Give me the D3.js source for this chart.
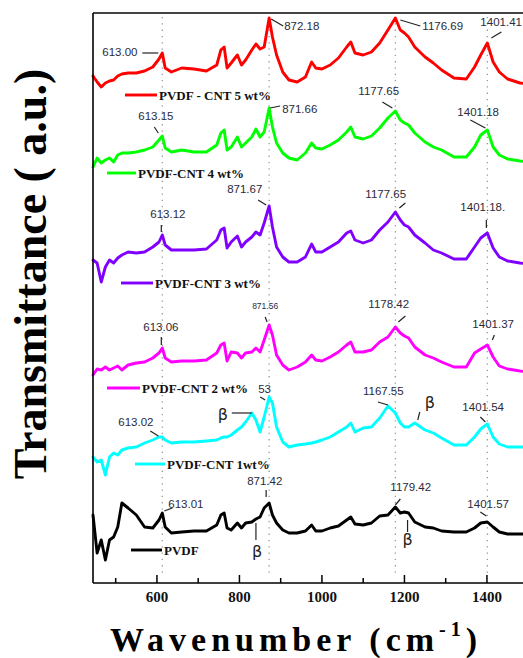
<!DOCTYPE html>
<html>
<head>
<meta charset="utf-8">
<script src="https://cdn.jsdelivr.net/npm/d3@7"></script>
<style>
  body { margin: 0; background: #fff; }
  svg { display: block; }
  .trace { fill: none; stroke-width: 2.9; stroke-linejoin: round; stroke-linecap: round; }
  .peak { font-family: "Liberation Sans", Arial, sans-serif; font-size: 11.5px; fill: #2a2a3a; dominant-baseline: middle; }
  .leader { stroke: #222; stroke-width: 1.2; }
  .beta { font-family: "DejaVu Sans", sans-serif; font-size: 16px; fill: #222; dominant-baseline: middle; }
  .legend { font-family: "Liberation Serif", "Times New Roman", serif; font-weight: bold; font-size: 13px; fill: #111; }
  .tick-label { font-family: "Liberation Serif", "Times New Roman", serif; font-weight: bold; font-size: 15px; fill: #111; text-anchor: middle; }
  .axis-title { font-family: "Liberation Serif", "Times New Roman", serif; font-weight: bold; fill: #000; }
</style>
</head>
<body>
<div id="chart"></div>
<script>
// FTIR spectra of PVDF and PVDF-CNT films, stacked with offsets

var wavenumbers = [445,455,465,475,485,495,505,515,530,550,570,590,605,613,620,635,660,690,720,745,
  755,763,770,780,795,805,815,830,840,850,860,872,880,890,905,920,940,960,975,985,
  1000,1020,1040,1060,1070,1080,1100,1120,1140,1160,1178,1190,1200,1210,1225,1250,1270,1290,1320,1350,
  1370,1385,1401,1415,1430,1450,1480,1500];

var cnt5 = [50.7,50.1,49.6,50.0,50.2,50.3,50.7,50.9,51.0,51.0, 51.2,51.6,52.4,53.0,51.5,51.1,51.5,51.4,51.2,51.8,
  53.3,53.6,51.5,52.0,52.8,51.8,52.3,53.3,53.9,53.4, 53.6,56.5,54.6,52.8,51.1,50.3,50.1,50.6,52.1,51.5,
  51.4,51.8,52.5,53.6,54.1,53.0,52.8,53.1,54.0,55.3, 56.5,55.3,55.0,54.6,53.6,52.6,52.0,51.3,50.5,50.4,
  51.6,52.8,54.0,52.1,51.1,50.4,50.0,49.9];

var cnt4 = [41.6,42.5,42.0,42.3,42.5,42.1,42.8,43.0,43.0,43.1, 43.3,43.6,44.3,44.7,43.5,43.1,43.3,43.1,43.1,43.8,
  45.0,45.3,43.3,43.6,44.6,43.6,44.0,44.6,45.4,44.6, 45.1,47.5,45.6,44.0,43.0,42.5,42.3,43.0,44.0,43.5,
  43.4,43.8,44.3,45.1,45.6,44.6,44.4,44.7,45.5,46.5, 47.2,46.3,46.0,45.8,45.0,44.1,43.6,43.3,42.6,42.6,
  43.6,44.8,45.3,43.6,42.8,42.4,42.2,42.1];

var cnt3 = [32.3,32.0,30.1,31.6,32.3,32.0,32.5,32.8,33.1,33.0, 33.1,33.6,34.1,34.8,33.8,33.3,33.3,33.3,33.4,34.3,
  35.3,35.5,33.5,34.1,34.7,33.6,34.1,34.6,35.1,34.8, 36.0,37.7,35.6,33.6,32.6,32.1,32.1,32.6,33.9,33.1,
  33.1,33.6,34.1,35.0,35.2,34.3,34.0,34.3,35.3,36.1, 37.1,36.3,35.8,35.6,34.8,34.0,33.3,33.0,32.4,32.4,
  33.6,34.5,35.0,33.5,32.6,32.2,32.0,31.9];

var cnt2 = [20.8,21.4,21.3,21.6,21.3,21.5,21.7,21.3,21.8,22.0, 22.1,22.5,23.0,23.5,22.5,22.1,22.2,22.2,22.3,23.0,
  23.8,24.0,22.2,23.1,23.0,22.5,23.0,23.1,23.5,23.1, 24.3,25.8,24.8,22.8,21.8,21.3,21.6,22.1,22.8,22.3,
  22.2,22.6,23.1,23.8,24.1,23.1,23.1,23.3,24.1,24.6, 25.6,25.0,24.7,24.5,23.6,22.8,22.5,22.1,21.6,21.6,
  23.0,23.4,23.8,22.6,21.7,21.4,21.2,21.1];

var cnt1 = [12.6,12.1,12.3,10.8,12.6,13.0,12.8,13.3,13.5,13.6, 14.0,14.3,14.6,14.6,14.3,14.0,14.1,14.1,14.2,14.3,
  14.5,14.6,14.6,14.8,15.3,15.6,16.1,17.0,16.3,15.1, 16.6,18.6,18.0,15.6,14.1,13.6,13.8,13.9,14.0,14.1,
  14.3,14.6,15.1,15.6,16.0,15.1,15.5,15.6,16.5,17.7, 17.0,16.0,15.6,15.6,16.0,15.3,15.0,14.5,13.8,13.8,
  14.6,15.4,15.9,14.6,13.9,13.6,13.6,13.6];

var pvdf = [6.8,3.0,4.3,2.3,4.3,4.6,5.6,8.0,7.5,6.8, 5.6,5.5,6.3,7.0,5.6,5.0,5.1,5.2,5.2,5.8,
  6.8,7.0,5.5,5.3,6.0,5.5,6.0,6.1,6.4,6.6, 7.5,8.0,6.8,6.0,5.3,5.0,5.0,5.2,5.8,5.2,
  5.2,5.5,5.7,6.3,6.6,5.9,5.8,6.0,6.7,6.8, 7.6,7.0,7.1,7.0,6.1,5.6,5.5,5.2,5.1,5.1,
  5.5,6.0,6.1,5.6,5.1,4.9,4.9,4.9];

var seriesKeys = ["cnt5", "cnt4", "cnt3", "cnt2", "cnt1", "pvdf"];
var seriesValues = {cnt5: cnt5, cnt4: cnt4, cnt3: cnt3, cnt2: cnt2, cnt1: cnt1, pvdf: pvdf};
var seriesColors = {cnt5: "#ff0000", cnt4: "#00ff00", cnt3: "#8000ff", cnt2: "#ff00ff", cnt1: "#00ffff", pvdf: "#000000"};
var legendNames = {cnt5: "PVDF - CNT 5 wt%", cnt4: "PVDF-CNT  4 wt%", cnt3: "PVDF-CNT 3 wt%",
  cnt2: "PVDF-CNT 2 wt%", cnt1: "PVDF-CNT 1wt%", pvdf: "PVDF"};

var xTicks = [600, 800, 1000, 1200, 1400];
var xMinorTicks = [500, 700, 900, 1100, 1300];
var guideLines = [613, 872, 1178, 1401];

// peak labels: series, peak wavenumber, text, label offset, leader offsets (px, from the peak)
var peakLabels = [
  {s:"cnt5", w:613,  text:"613.00",  dx:-60, dy:0,   lead:[-20,0,-4,0]},
  {s:"cnt5", w:872,  text:"872.18",  dx:15,  dy:9,   lead:[2,1,14,8]},
  {s:"cnt5", w:1178, text:"1176.69", dx:27,  dy:9,   lead:[5,2,25,8]},
  {s:"cnt5", w:1401, text:"1401.41", dx:-7,  dy:-20, lead:[4,-5,14,-11]},
  {s:"cnt4", w:613,  text:"613.15",  dx:-24, dy:-19, lead:[-8,-9,-4,-3]},
  {s:"cnt4", w:872,  text:"871.66",  dx:13,  dy:2,   lead:[1,0,11,-2]},
  {s:"cnt4", w:1178, text:"1177.65", dx:-37, dy:-19, lead:[-13,-9,-3,-3]},
  {s:"cnt4", w:1401, text:"1401.18", dx:-30, dy:-17, lead:[-17,-10,-2,-2]},
  {s:"cnt3", w:613,  text:"613.12",  dx:-12, dy:-20, lead:[-1,-10,-1,-3]},
  {s:"cnt3", w:872,  text:"871.67",  dx:-42, dy:-16, lead:[-11,-6,-3,-1]},
  {s:"cnt3", w:1178, text:"1177.65", dx:-30, dy:-17, lead:[4,-4,10,-9]},
  {s:"cnt3", w:1401, text:"1401.18.", dx:-27, dy:-25, lead:[-1,-13,-1,-5]},
  {s:"cnt2", w:613,  text:"613.06",  dx:-19, dy:-20, lead:[-1,-11,-1,-3]},
  {s:"cnt2", w:872,  text:"871.56",  dx:-17, dy:-18, lead:[-4,-8,-2,-3], small:true},
  {s:"cnt2", w:1178, text:"1178.42", dx:-27, dy:-22, lead:[3,-5,10,-11]},
  {s:"cnt2", w:1401, text:"1401.37", dx:-15, dy:-20, lead:[5,-5,7,-10]},
  {s:"cnt1", w:613,  text:"613.02",  dx:-44, dy:-14, lead:[-12,-6,-4,-1]},
  {s:"cnt1", w:872,  text:"53",      dx:-11, dy:-7,  lead:[-9,0,-4,3]},
  {s:"cnt1", w:1160, text:"1167.55", dx:-25, dy:-14, lead:[-10,-4,0,-1]},
  {s:"cnt1", w:1401, text:"1401.54", dx:-25, dy:-16, lead:[-7,-7,-2,-2]},
  {s:"pvdf", w:613,  text:"613.01",  dx:6,   dy:-8,  lead:[2,-2,10,-5]},
  {s:"pvdf", w:872,  text:"871.42",  dx:-22, dy:-21, lead:[-3,-13,-3,-6]},
  {s:"pvdf", w:1178, text:"1179.42", dx:-5,  dy:-19, lead:[0,-2,5,-8]},
  {s:"pvdf", w:1401, text:"1401.57", dx:-20, dy:-17, lead:[-7,-10,-1,-6]}
];

// beta-phase marks
var betaLabels = [
  {s:"cnt1", w:830,  dx:-34, dy:2,  lead:[-20,0,0,0]},
  {s:"cnt1", w:1225, dx:10,  dy:-20, lead:[5,-11,3,-3]},
  {s:"pvdf", w:840,  dx:-4,  dy:33, lead:[0,4,0,21]},
  {s:"pvdf", w:1210, dx:-6,  dy:27, lead:[-1,7,-1,19]}
];

// legend placement (px): line start, line end, line y
var legendLayout = {
  cnt5: [125, 157, 95],
  cnt4: [107, 136, 173],
  cnt3: [121, 153, 283],
  cnt2: [107, 140, 388],
  cnt1: [135, 165, 464],
  pvdf: [131, 162, 550]
};

var width = 523, height = 658;
var margin = {left: 93, top: 13, bottom: 583};

var svg = d3.select("#chart").append("svg")
  .attr("width", width).attr("height", height);

var x = d3.scaleLinear().domain([445, 1500]).range([margin.left, margin.left + 1055 * 0.4125]);
var y = d3.scaleLinear().domain([0, 57]).range([margin.bottom, margin.top]);

function valueAt(key, w) {
  var i = wavenumbers.indexOf(w);
  return seriesValues[key][i];
}

// dotted guide lines
svg.append("g").selectAll("line")
  .data(guideLines)
  .enter().append("line")
  .attr("x1", function(d){return x(d);}).attr("x2", function(d){return x(d);})
  .attr("y1", margin.top + 4).attr("y2", margin.bottom - 6)
  .attr("stroke", "#9a9a9a").attr("stroke-width", 1.3)
  .attr("stroke-dasharray", "1.3,5");

// traces
var line = d3.line()
  .x(function(d){return x(d[0]);})
  .y(function(d){return y(d[1]);});

svg.append("g").selectAll("path")
  .data(seriesKeys)
  .enter().append("path")
  .attr("class", "trace")
  .attr("stroke", function(k){return seriesColors[k];})
  .attr("d", function(k){
    return line(wavenumbers.map(function(w, i){return [w, seriesValues[k][i]];}));
  });

// axes frame
svg.append("line").attr("x1", margin.left).attr("x2", width).attr("y1", margin.top).attr("y2", margin.top)
  .attr("stroke", "#444").attr("stroke-width", 2);
svg.append("line").attr("x1", margin.left).attr("x2", margin.left).attr("y1", margin.top).attr("y2", margin.bottom)
  .attr("stroke", "#000").attr("stroke-width", 1.6);
svg.append("line").attr("x1", margin.left).attr("x2", width).attr("y1", margin.bottom).attr("y2", margin.bottom)
  .attr("stroke", "#000").attr("stroke-width", 1.6);

// ticks (pointing inward)
svg.append("g").selectAll("line")
  .data(xTicks)
  .enter().append("line")
  .attr("x1", function(d){return x(d);}).attr("x2", function(d){return x(d);})
  .attr("y1", margin.bottom).attr("y2", margin.bottom - 8)
  .attr("stroke", "#000").attr("stroke-width", 1.5);
svg.append("g").selectAll("line")
  .data(xMinorTicks)
  .enter().append("line")
  .attr("x1", function(d){return x(d);}).attr("x2", function(d){return x(d);})
  .attr("y1", margin.bottom).attr("y2", margin.bottom - 5)
  .attr("stroke", "#000").attr("stroke-width", 1.5);
svg.append("g").selectAll("text")
  .data(xTicks)
  .enter().append("text")
  .attr("class", "tick-label")
  .attr("x", function(d){return x(d);})
  .attr("y", margin.bottom + 19)
  .text(function(d){return d;});

// axis titles
svg.append("text")
  .attr("class", "axis-title")
  .attr("transform", "translate(46,274) rotate(-90)")
  .attr("text-anchor", "middle")
  .style("font-size", "46px")
  .text("Transmittance ( a.u.)");

var xTitle = svg.append("text")
  .attr("class", "axis-title")
  .attr("x", 110).attr("y", 651)
  .style("font-size", "34px")
  .style("letter-spacing", "5px");
xTitle.append("tspan").text("Wavenumber (cm");
xTitle.append("tspan").text("-1").style("font-size", "20px").attr("dy", -15);
xTitle.append("tspan").text(")").attr("dy", 15);

// legends
var legend = svg.append("g").selectAll("g")
  .data(seriesKeys)
  .enter().append("g");
legend.append("line")
  .attr("x1", function(k){return legendLayout[k][0];})
  .attr("x2", function(k){return legendLayout[k][1];})
  .attr("y1", function(k){return legendLayout[k][2];})
  .attr("y2", function(k){return legendLayout[k][2];})
  .attr("stroke", function(k){return seriesColors[k];})
  .attr("stroke-width", 2.9);
legend.append("text")
  .attr("class", "legend")
  .attr("x", function(k){return legendLayout[k][1] + 2;})
  .attr("y", function(k){return legendLayout[k][2] + 4.5;})
  .text(function(k){return legendNames[k];});

// peak labels + leaders
var peaks = svg.append("g").selectAll("g")
  .data(peakLabels)
  .enter().append("g")
  .attr("transform", function(d){return "translate(" + x(d.w) + "," + y(valueAt(d.s, d.w)) + ")";});
peaks.append("line")
  .attr("class", "leader")
  .attr("x1", function(d){return d.lead[0];}).attr("y1", function(d){return d.lead[1];})
  .attr("x2", function(d){return d.lead[2];}).attr("y2", function(d){return d.lead[3];});
peaks.append("text")
  .attr("class", "peak")
  .attr("x", function(d){return d.dx;})
  .attr("y", function(d){return d.dy;})
  .style("font-size", function(d){return d.small ? "8.5px" : null;})
  .text(function(d){return d.text;});

var betas = svg.append("g").selectAll("g")
  .data(betaLabels)
  .enter().append("g")
  .attr("transform", function(d){return "translate(" + x(d.w) + "," + y(valueAt(d.s, d.w)) + ")";});
betas.append("line")
  .attr("class", "leader")
  .attr("x1", function(d){return d.lead[0];}).attr("y1", function(d){return d.lead[1];})
  .attr("x2", function(d){return d.lead[2];}).attr("y2", function(d){return d.lead[3];});
betas.append("text")
  .attr("class", "beta")
  .attr("x", function(d){return d.dx;})
  .attr("y", function(d){return d.dy;})
  .text("\u03b2");
</script>
</body>
</html>
